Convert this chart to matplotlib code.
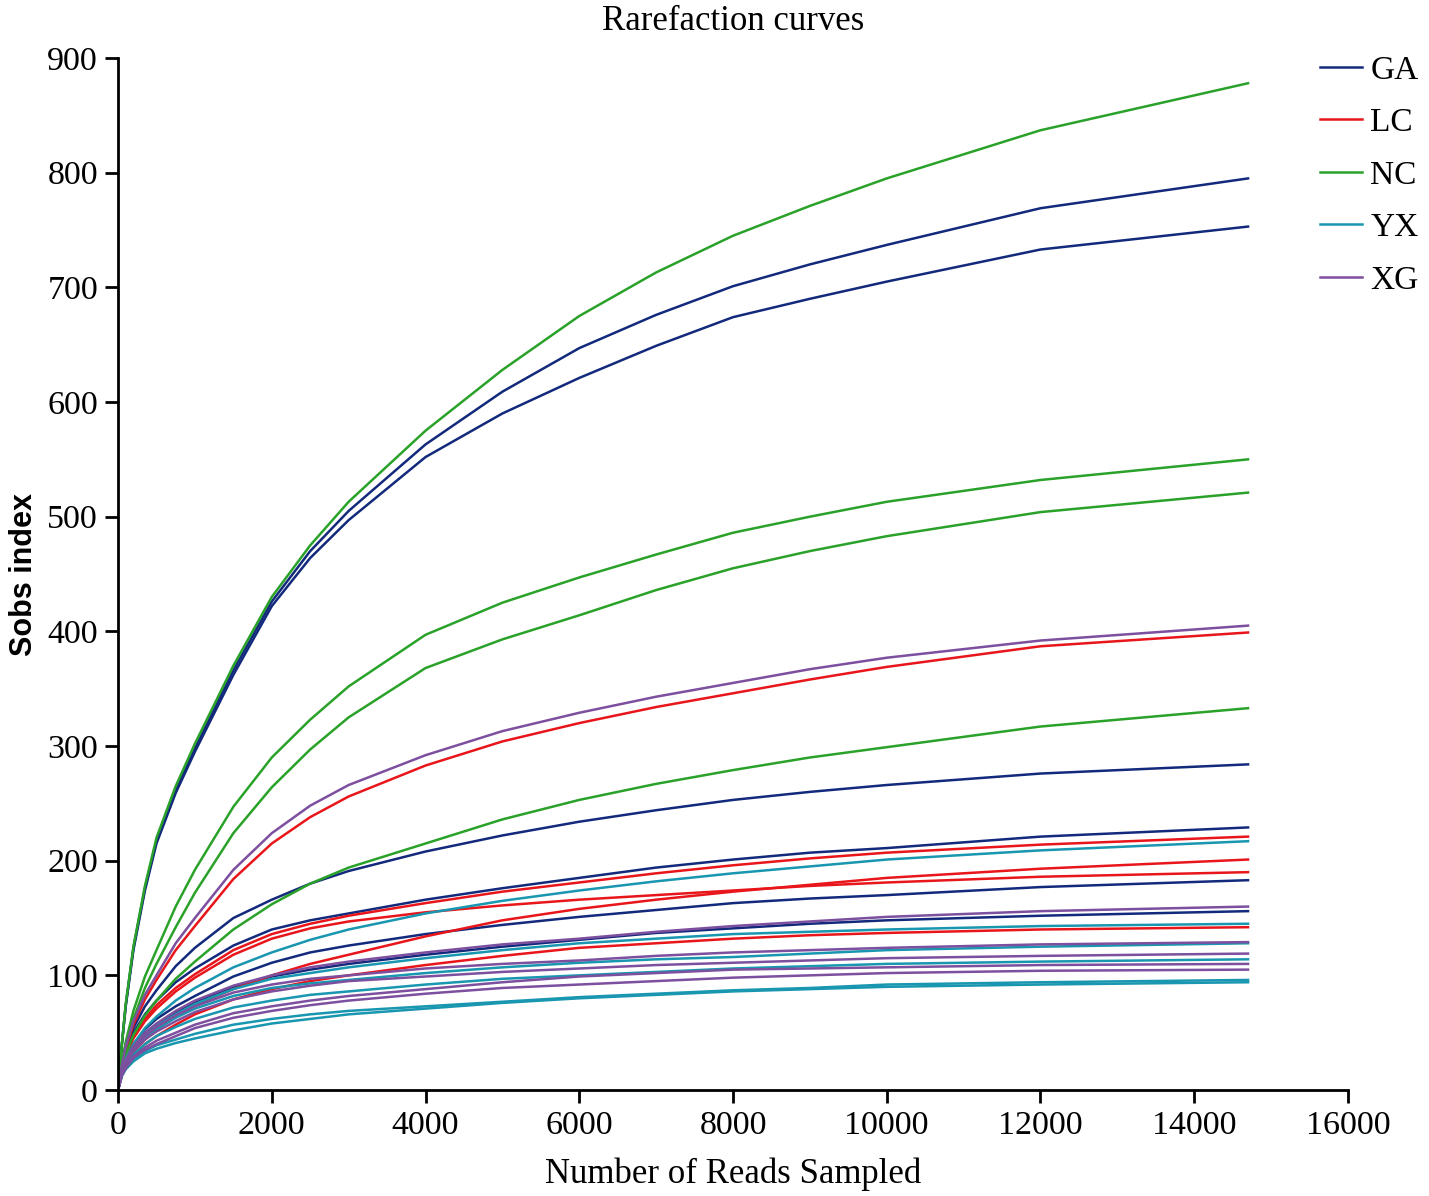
import matplotlib
matplotlib.use('Agg')
import matplotlib.pyplot as plt

reads = [0, 50, 100, 200, 350, 500, 750, 1000, 1500, 2000, 2500, 3000,
         4000, 5000, 6000, 7000, 8000, 9000, 10000, 12000, 14700]

GA = [
    [0, 40, 74, 124, 176, 217, 262, 298, 366, 426, 470, 505, 563, 609, 647, 676, 701, 720, 737, 769, 795],
    [0, 40, 73, 122, 174, 215, 259, 295, 362, 422, 464, 497, 552, 590, 621, 649, 674, 690, 705, 733, 753],
    [0, 21, 35, 54, 73, 87, 108, 124, 150, 166, 180, 191, 208, 222, 234, 244, 253, 260, 266, 276, 284],
    [0, 20, 33, 50, 66, 78, 94, 106, 126, 140, 148, 154, 166, 176, 185, 194, 201, 207, 211, 221, 229],
    [0, 17, 27, 40, 53, 62, 73, 82, 99, 111, 120, 126, 136, 144, 151, 157, 163, 167, 170, 177, 183],
    [0, 17, 26, 37, 49, 57, 68, 77, 90, 99, 105, 110, 118, 125, 131, 137, 141, 145, 148, 152, 156],
]
LC = [
    [0, 21, 36, 57, 79, 96, 122, 143, 184, 215, 238, 256, 283, 304, 320, 334, 346, 358, 369, 387, 399],
    [0, 19, 31, 47, 62, 74, 89, 101, 122, 136, 145, 152, 163, 173, 181, 189, 196, 202, 207, 214, 221],
    [0, 19, 30, 45, 60, 71, 86, 98, 118, 132, 141, 147, 155, 161, 166, 170, 174, 178, 181, 186, 190],
    [0, 14, 22, 33, 44, 53, 64, 74, 88, 100, 110, 118, 134, 148, 158, 166, 173, 179, 185, 193, 201],
    [0, 13, 20, 30, 40, 47, 57, 66, 79, 88, 95, 100, 109, 117, 124, 128, 132, 135, 137, 140, 142],
]
NC = [
    [0, 40, 75, 125, 178, 220, 265, 302, 370, 430, 475, 513, 575, 628, 675, 713, 745, 771, 795, 837, 878],
    [0, 24, 42, 69, 99, 122, 160, 192, 247, 290, 323, 352, 397, 425, 447, 467, 486, 500, 513, 532, 550],
    [0, 22, 38, 62, 89, 110, 142, 172, 224, 264, 297, 325, 368, 393, 414, 436, 455, 470, 483, 504, 521],
    [0, 19, 31, 48, 65, 78, 97, 112, 140, 162, 180, 194, 215, 236, 253, 267, 279, 290, 299, 317, 333],
]
YX = [
    [0, 17, 27, 40, 54, 64, 78, 89, 107, 120, 131, 140, 154, 165, 174, 182, 189, 195, 201, 209, 217],
    [0, 16, 25, 36, 48, 56, 66, 75, 88, 97, 102, 107, 115, 122, 128, 132, 136, 138, 140, 143, 145],
    [0, 16, 24, 35, 46, 53, 63, 71, 82, 89, 93, 96, 102, 107, 111, 114, 116, 119, 122, 125, 128],
    [0, 14, 21, 31, 40, 47, 55, 62, 72, 78, 83, 86, 92, 97, 100, 103, 106, 108, 110, 112, 114],
    [0, 13, 19, 27, 34, 39, 44, 49, 57, 62, 66, 69, 73, 77, 81, 84, 87, 89, 92, 94, 96],
    [0, 12, 18, 25, 32, 36, 41, 45, 52, 58, 62, 66, 71, 76, 80, 83, 86, 88, 90, 92, 94],
]
XG = [
    [0, 22, 38, 60, 83, 100, 128, 150, 192, 224, 248, 266, 292, 313, 329, 343, 355, 367, 377, 392, 405],
    [0, 17, 26, 38, 50, 58, 69, 78, 91, 100, 107, 112, 120, 127, 132, 138, 143, 147, 151, 156, 160],
    [0, 16, 25, 36, 47, 55, 65, 73, 85, 92, 97, 100, 106, 110, 113, 117, 120, 122, 124, 127, 129],
    [0, 15, 23, 34, 44, 51, 60, 68, 79, 86, 91, 95, 99, 103, 106, 109, 111, 113, 115, 117, 119],
    [0, 13, 20, 29, 37, 43, 50, 57, 67, 73, 78, 82, 88, 94, 99, 102, 105, 106, 107, 109, 110],
    [0, 13, 19, 28, 35, 40, 47, 54, 63, 69, 74, 78, 84, 89, 92, 95, 98, 100, 102, 104, 105],
]

groups = ['GA', 'LC', 'NC', 'YX', 'XG']
colors = ['#132a7c', '#e8161b', '#2aa22a', '#1996b0', '#7d4f9f']
curves = [GA, LC, NC, YX, XG]

serif = ['Liberation Serif', 'DejaVu Serif']

fig = plt.figure(figsize=(14.29, 11.96), dpi=100)
ax = fig.add_axes([0.0826, 0.0886, 0.8607, 0.8629])

handles = []
for name, col, group in zip(groups, colors, curves):
    for i, vals in enumerate(group):
        ln, = ax.plot(reads, vals, color=col, lw=1.8, solid_joinstyle='round')
        if i == 0:
            ln.set_label(name)
            handles.append(ln)

ax.set_xlim(0, 16000)
ax.set_ylim(0, 900)
ax.set_xticks(range(0, 16001, 2000))
ax.set_yticks(range(0, 901, 100))

for s in ['top', 'right']:
    ax.spines[s].set_visible(False)
for s in ['left', 'bottom']:
    ax.spines[s].set_linewidth(2)
ax.tick_params(width=2, length=9.4, pad=5, direction='out', labelsize=24.5)
for lab in ax.get_xticklabels() + ax.get_yticklabels():
    lab.set_family(serif)

ax.set_title('Rarefaction curves', family=serif, fontsize=25, pad=20)
ax.set_xlabel('Number of Reads Sampled', family=serif, fontsize=25, labelpad=12)
ax.set_ylabel('Sobs index', family=['Liberation Sans', 'DejaVu Sans'],
              fontsize=22, fontweight='bold', labelpad=6)

fig.legend(handles=handles, loc='upper left', bbox_to_anchor=(0.9237, 0.954),
           frameon=False, borderpad=0, borderaxespad=0,
           prop={'family': serif, 'size': 24},
           handlelength=1.26, handletextpad=0.25, labelspacing=0.66)

fig.savefig('out.png', dpi=100)
